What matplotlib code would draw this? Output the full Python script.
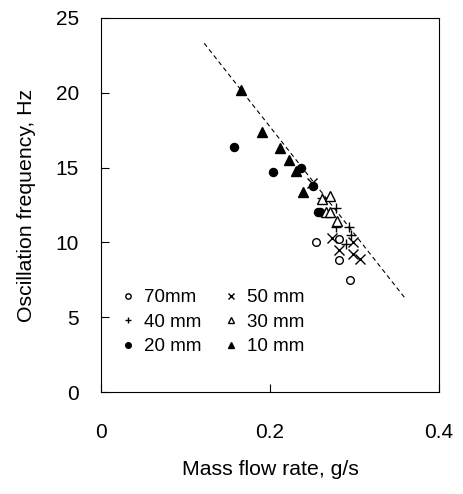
import matplotlib
matplotlib.use("Agg")
import matplotlib.pyplot as plt

plt.rcParams['font.family'] = ['Liberation Sans', 'DejaVu Sans']

# 70 mm
x70 = [0.254, 0.282, 0.282, 0.295]
y70 = [10.0, 10.2, 8.8, 7.5]
# 50 mm
x50 = [0.250, 0.273, 0.282, 0.298, 0.298, 0.306]
y50 = [14.0, 10.3, 9.5, 10.0, 9.2, 8.9]
# 40 mm
x40 = [0.262, 0.278, 0.278, 0.293, 0.296, 0.290]
y40 = [13.0, 12.3, 11.0, 11.0, 10.5, 9.9]
# 30 mm
x30 = [0.262, 0.271, 0.266, 0.271, 0.279]
y30 = [12.9, 13.1, 12.0, 12.0, 11.4]
# 20 mm
x20 = [0.157, 0.203, 0.237, 0.251, 0.257, 0.259]
y20 = [16.4, 14.7, 15.0, 13.8, 12.0, 12.0]
# 10 mm
x10 = [0.166, 0.191, 0.212, 0.222, 0.231, 0.239]
y10 = [20.2, 17.4, 16.3, 15.5, 14.8, 13.4]
# trend line
xfit = [0.122, 0.361]
yfit = [23.3, 6.2]

fig = plt.figure(figsize=(4.64, 4.94), dpi=100)
ax = fig.add_axes([0.218, 0.206, 0.728, 0.758])

ax.plot(xfit, yfit, 'k--', lw=0.8, dashes=(4, 3))
ax.plot(x70, y70, 'o', ms=5.5, mfc='white', mec='k', mew=1, ls='none', label='70mm')
ax.plot(x40, y40, '+', ms=7, mec='k', mew=1, ls='none', label='40 mm')
ax.plot(x20, y20, 'o', ms=5.8, color='k', ls='none', label='20 mm')
ax.plot(x50, y50, 'x', ms=6.5, mec='k', mew=1, ls='none', label='50 mm')
ax.plot(x30, y30, '^', ms=7, mfc='white', mec='k', mew=1, ls='none', label='30 mm')
ax.plot(x10, y10, '^', ms=7, color='k', ls='none', label='10 mm')

ax.set_xlim(0, 0.4)
ax.set_ylim(0, 25)
ax.set_xticks([0, 0.2, 0.4])
ax.set_xticklabels(['0', '0.2', '0.4'])
ax.set_yticks([0, 5, 10, 15, 20, 25])
ax.tick_params(direction='in', length=6, labelsize=15)
ax.tick_params(axis='x', pad=22)
ax.tick_params(axis='y', pad=16)
ax.set_xlabel('Mass flow rate, g/s', fontsize=15.3, labelpad=13)
ax.set_ylabel('Oscillation frequency, Hz', fontsize=15.3, labelpad=14)

ax.legend(ncol=2, loc='center left', bbox_to_anchor=(0.035, 0.187), frameon=False,
          fontsize=13.5, markerscale=0.7, handlelength=0.8, handletextpad=0.45,
          columnspacing=1.2, labelspacing=0.4, borderaxespad=0.0)

fig.savefig('out.png', dpi=100)
